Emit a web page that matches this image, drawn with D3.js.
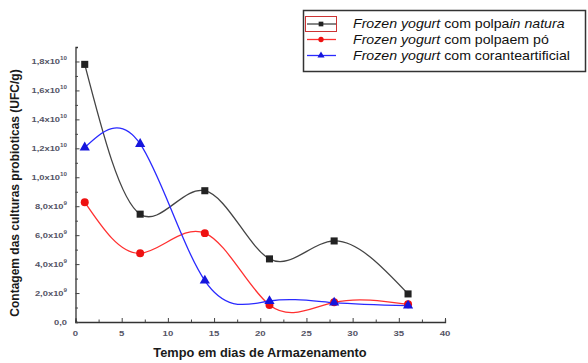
<!DOCTYPE html>
<html>
<head>
<meta charset="utf-8">
<script src="https://cdn.jsdelivr.net/npm/d3@7"></script>
<style>
  body { margin: 0; background: #fff; }
  svg { display: block; font-family: "Liberation Sans", Arial, sans-serif; }
</style>
</head>
<body>
<div id="chart"></div>
<script>
// storage time (days)
var days = [1, 7, 14, 21, 28, 36];
// probiotic counts (UFC/g)
var inNatura = [1.78e10, 7.45e9, 9.07e9, 4.36e9, 5.6e9, 1.94e9];
var emPo = [8.28e9, 4.75e9, 6.14e9, 1.18e9, 1.36e9, 1.22e9];
var corante = [1.206e10, 1.23e10, 2.86e9, 1.45e9, 1.34e9, 1.13e9];

var xTicks = [0, 5, 10, 15, 20, 25, 30, 35, 40];
var yTicks = [0, 2e9, 4e9, 6e9, 8e9, 1e10, 1.2e10, 1.4e10, 1.6e10, 1.8e10];

var series = [
    {name: "natura", values: inNatura, color: "#222", line: "#444", symbol: d3.symbolSquare, size: 50},
    {name: "po", values: emPo, color: "#ee1111", line: "#ff3030", symbol: d3.symbolCircle, size: 50},
    {name: "corante", values: corante, color: "#1515dd", line: "#2a2aff", symbol: d3.symbolTriangle, size: 45}
];

var width = 588, height = 363;

var svg = d3.select("#chart").append("svg")
    .attr("width", width)
    .attr("height", height);

var x = d3.scaleLinear().domain([0, 40]).range([75.5, 445]);
var y = d3.scaleLinear().domain([0, 1.9e10]).range([322, 47]);

//--- axes (ticks inside)
var xAxis = svg.append("g")
    .attr("transform", "translate(0," + y(0) + ")")
    .call(d3.axisBottom(x).tickValues(d3.range(0, 40.1, 2.5)).tickSize(-2.5).tickFormat(""));
xAxis.selectAll(".tick line").attr("y2", function(d) { return d % 5 === 0 ? -4 : -2.5; });

var yAxis = svg.append("g")
    .attr("transform", "translate(" + x(0) + ",0)")
    .call(d3.axisLeft(y).tickValues(d3.range(0, 1.9e10, 1e9)).tickSize(-2.5).tickFormat(""));
yAxis.selectAll(".tick line").attr("x2", function(d, i) { return i % 2 === 0 ? 4 : 2.5; });

[xAxis, yAxis].forEach(function(a) {
    a.select(".domain").attr("stroke", "#333").attr("stroke-width", 1.3);
    a.selectAll(".tick line").attr("stroke", "#444");
});

// x tick labels (the original is a bit stretched sideways)
svg.append("g").selectAll("text")
    .data(xTicks)
    .enter().append("text")
    .attr("transform", function(d) { return "translate(" + x(d) + ",336) scale(1.2,1)"; })
    .attr("text-anchor", "middle")
    .attr("font-size", 8)
    .attr("font-weight", "bold")
    .attr("fill", "#556")
    .text(function(d) { return d; });

// y tick labels like 2,0x10^9
var yLab = svg.append("g").selectAll("text")
    .data(yTicks)
    .enter().append("text")
    .attr("transform", function(d) { return "translate(67," + (y(d) + 3) + ") scale(1.25,1)"; })
    .attr("text-anchor", "end")
    .attr("font-size", 7.5)
    .attr("font-weight", "bold")
    .attr("fill", "#556");

yLab.each(function(d) {
    var t = d3.select(this);
    if (d === 0) { t.text("0,0"); return; }
    var e = Math.floor(Math.log10(d) + 1e-9);
    var m = (d / Math.pow(10, e)).toFixed(1).replace(".", ",");
    t.append("tspan").text(m + "x10");
    t.append("tspan").attr("dy", -4).attr("font-size", 5).text(e);
});

// axis titles
svg.append("text")
    .attr("x", 260)
    .attr("y", 357)
    .attr("text-anchor", "middle")
    .attr("font-size", 12.8)
    .attr("font-weight", "bold")
    .attr("fill", "#1a1a1a")
    .text("Tempo em dias de Armazenamento");

svg.append("text")
    .attr("transform", "translate(19,193) rotate(-90)")
    .attr("text-anchor", "middle")
    .attr("font-size", 12)
    .attr("font-weight", "bold")
    .attr("fill", "#1a1a1a")
    .text("Contagem das culturas probioticas (UFC/g)");

//--- smooth lines + markers
var line = d3.line()
    .x(function(d) { return x(d[0]); })
    .y(function(d) { return y(d[1]); })
    .curve(d3.curveNatural);

series.forEach(function(s) {
    var pts = days.map(function(d, i) { return [d, s.values[i]]; });
    svg.append("path")
        .datum(pts)
        .attr("d", line)
        .attr("fill", "none")
        .attr("stroke", s.line)
        .attr("stroke-width", 1.3);
});

series.forEach(function(s) {
    var pts = days.map(function(d, i) { return [d, s.values[i]]; });
    svg.append("g").selectAll("path")
        .data(pts)
        .enter().append("path")
        .attr("d", d3.symbol().type(s.symbol).size(s.size))
        .attr("transform", function(d) { return "translate(" + x(d[0]) + "," + y(d[1]) + ")"; })
        .attr("fill", s.color);
});

//--- legend
var legend = svg.append("g");
legend.append("rect")
    .attr("x", 303.5).attr("y", 10.5)
    .attr("width", 282).attr("height", 61)
    .attr("fill", "#fff")
    .attr("stroke", "#333")
    .attr("stroke-width", 1.5);

var legendRows = [
    [["Frozen yogurt", true], [" com polpa", false], ["in natura", true]],
    [["Frozen yogurt", true], [" com polpa", false], ["em pó", false]],
    [["Frozen yogurt", true], [" com corante", false], ["artificial", false]]
];
var rowY = [24, 39.5, 55.5];

// the red selection frame around the first symbol
legend.append("rect")
    .attr("x", 305.5).attr("y", 16.5)
    .attr("width", 31).attr("height", 15)
    .attr("fill", "none")
    .attr("stroke", "#cc3333")
    .attr("stroke-width", 1);

series.forEach(function(s, i) {
    legend.append("line")
        .attr("x1", 307).attr("x2", 336)
        .attr("y1", rowY[i]).attr("y2", rowY[i])
        .attr("stroke", s.line)
        .attr("stroke-width", 1.3);
    legend.append("path")
        .attr("d", d3.symbol().type(s.symbol).size(22))
        .attr("transform", "translate(321," + rowY[i] + ")")
        .attr("fill", s.color);
    var t = legend.append("text")
        .attr("transform", "translate(353," + (rowY[i] + 4) + ") scale(1.18,1)")
        .attr("font-size", 12)
        .attr("fill", "#111");
    legendRows[i].forEach(function(p) {
        t.append("tspan")
            .attr("font-style", p[1] ? "italic" : "normal")
            .text(p[0]);
    });
});
</script>
</body>
</html>
